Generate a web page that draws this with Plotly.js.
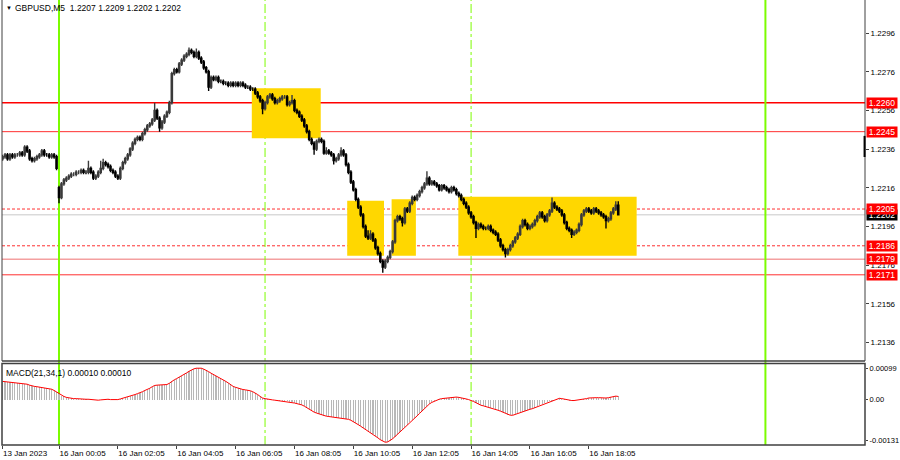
<!DOCTYPE html>
<html><head><meta charset="utf-8">
<script src="https://cdn.plot.ly/plotly-3.0.1.min.js"></script>
<style>html,body{margin:0;padding:0;background:#fff}#chart{width:900px;height:460px}</style>
</head><body><div id="chart"></div>
<script>
// ---- data (GBPUSD M5) ----
const firstBarIndex = -23; // bars before the first 16 Jan bar (13 Jan)
const barOpen = [1.2231,1.2232,1.2233,1.2231,1.2233,1.2232,1.2233,1.2233,1.2234,1.2233,1.2237,1.2235,1.2231,1.2230,1.2231,1.2232,1.2233,1.2235,1.2233,1.2233,1.2232,1.2233,1.2232,
1.2216,1.2211,1.2218,1.2220,1.2221,1.2222,1.2223,1.2223,1.2224,1.2224,
1.2225,1.2224,1.2224,1.2226,1.2224,1.2221,1.2222,1.2224,1.2226,1.2229,
1.2228,1.2227,1.2225,1.2224,1.2222,1.2221,1.2226,1.2229,1.2231,1.2233,
1.2236,1.2239,1.2241,1.2242,1.2241,1.2244,1.2246,1.2248,1.2249,1.2251,
1.2256,1.2252,1.2247,1.2250,1.2253,1.2255,1.2260,1.2275,1.2277,1.2276,
1.2280,1.2282,1.2284,1.2285,1.2287,1.2286,1.2284,1.2286,1.2283,1.2281,
1.2278,1.2276,1.2268,1.2273,1.2272,1.2273,1.2271,1.2271,1.2270,1.2270,
1.2269,1.2270,1.2269,1.2270,1.2269,1.2270,1.2269,1.2268,1.2268,1.2267,
1.2267,1.2265,1.2263,1.2261,1.2257,1.2260,1.2263,1.2264,1.2262,1.2260,
1.2261,1.2262,1.2263,1.2263,1.2259,1.2260,1.2261,1.2256,1.2255,1.2253,
1.2251,1.2248,1.2245,1.2241,1.2239,1.2236,1.2240,1.2241,1.2240,1.2234,
1.2235,1.2234,1.2233,1.2230,1.2231,1.2233,1.2235,1.2233,1.2228,1.2224,
1.2219,1.2215,1.2210,1.2206,1.2202,1.2196,1.2191,1.2190,1.2192,1.2189,
1.2185,1.2182,1.2178,1.2175,1.2178,1.2180,1.2183,1.2188,1.2199,1.2201,
1.2200,1.2198,1.2205,1.2204,1.2208,1.2211,1.2210,1.2212,1.2214,1.2216,
1.2218,1.2221,1.2218,1.2219,1.2218,1.2217,1.2215,1.2217,1.2216,1.2215,
1.2214,1.2216,1.2215,1.2213,1.2212,1.2210,1.2208,1.2206,1.2203,1.2201,
1.2198,1.2195,1.2197,1.2196,1.2195,1.2195,1.2196,1.2194,1.2193,1.2192,
1.2189,1.2186,1.2184,1.2182,1.2184,1.2186,1.2188,1.2190,1.2192,1.2196,
1.2199,1.2197,1.2195,1.2196,1.2197,1.2199,1.2201,1.2203,1.2201,1.2199,
1.2202,1.2204,1.2208,1.2206,1.2205,1.2204,1.2202,1.2198,1.2195,1.2194,
1.2192,1.2193,1.2194,1.2197,1.2202,1.2204,1.2205,1.2204,1.2203,1.2205,
1.2204,1.2203,1.2202,1.2201,1.2199,1.2200,1.2203,1.2205,1.2207];
const barHigh = [1.2233,1.2234,1.2234,1.2234,1.2234,1.2234,1.2234,1.2235,1.2235,1.2238,1.2238,1.2236,1.2232,1.2232,1.2233,1.2234,1.2236,1.2236,1.2234,1.2234,1.2234,1.2234,1.2233,
1.2217,1.2219,1.2221,1.2222,1.2223,1.2224,1.2224,1.2225,1.2225,1.2226,
1.2226,1.2225,1.2230,1.2227,1.2225,1.2223,1.2225,1.2230,1.2231,1.2230,
1.2229,1.2228,1.2226,1.2225,1.2223,1.2227,1.2230,1.2232,1.2234,1.2237,
1.2240,1.2242,1.2243,1.2243,1.2245,1.2247,1.2249,1.2250,1.2252,1.2260,
1.2257,1.2253,1.2251,1.2254,1.2256,1.2261,1.2276,1.2278,1.2278,1.2281,
1.2283,1.2285,1.2286,1.22885,1.2288,1.2287,1.2288,1.2287,1.2284,1.2282,
1.2279,1.2277,1.2274,1.2274,1.2274,1.2274,1.2272,1.2272,1.2271,1.2271,
1.2271,1.2271,1.2271,1.2271,1.2271,1.2271,1.2270,1.2269,1.2269,1.2268,
1.2268,1.2266,1.2264,1.2262,1.2261,1.2264,1.2265,1.2265,1.2263,1.2262,
1.2263,1.2264,1.2264,1.2264,1.2261,1.2264,1.2262,1.2257,1.2256,1.2254,
1.2252,1.2249,1.2246,1.2242,1.2240,1.2241,1.2242,1.2242,1.2241,1.2237,
1.2236,1.2235,1.2234,1.2232,1.2234,1.2237,1.2236,1.2234,1.2229,1.2225,
1.2220,1.2216,1.2211,1.2207,1.2203,1.2197,1.2194,1.2194,1.2193,1.2190,
1.2186,1.2183,1.2179,1.2179,1.2181,1.2184,1.2189,1.2200,1.2202,1.2202,
1.2201,1.2206,1.2206,1.2209,1.2212,1.2212,1.2213,1.2215,1.2217,1.2219,
1.22245,1.2222,1.2220,1.2220,1.2219,1.2218,1.2218,1.2218,1.2217,1.2216,
1.2217,1.2217,1.2216,1.2214,1.2213,1.2211,1.2209,1.2207,1.2204,1.2202,
1.2199,1.2198,1.2198,1.2197,1.2196,1.2197,1.2197,1.2195,1.2194,1.2193,
1.2190,1.2187,1.2185,1.2185,1.2187,1.2189,1.2191,1.2193,1.2197,1.2200,
1.2200,1.2198,1.2197,1.2198,1.2200,1.2202,1.2204,1.2204,1.2202,1.2203,
1.2205,1.2211,1.2209,1.2207,1.2206,1.2205,1.2203,1.2199,1.2196,1.2195,
1.2194,1.2195,1.2198,1.2203,1.2205,1.2206,1.2206,1.2205,1.2206,1.2206,
1.2205,1.2204,1.2203,1.2202,1.2201,1.2204,1.2206,1.2209,1.2209];
const barLow = [1.2230,1.2231,1.2230,1.2230,1.2231,1.2231,1.2232,1.2232,1.2232,1.2232,1.2234,1.2230,1.2229,1.2229,1.2230,1.2231,1.2232,1.2232,1.2232,1.2231,1.2231,1.2231,1.2225,
1.2208,1.2210,1.2217,1.2219,1.2220,1.2221,1.2222,1.2222,1.2223,1.2223,
1.2223,1.2223,1.2223,1.2223,1.2220,1.2220,1.2221,1.2223,1.2225,1.2227,
1.2226,1.2224,1.2223,1.2221,1.2220,1.2220,1.2225,1.2228,1.2230,1.2232,
1.2235,1.2238,1.2240,1.2240,1.2240,1.2243,1.2245,1.2247,1.2248,1.2250,
1.2251,1.2245,1.2246,1.2249,1.2252,1.2254,1.2259,1.2274,1.2275,1.2275,
1.2279,1.2281,1.2283,1.2284,1.2285,1.2283,1.2283,1.2282,1.2280,1.2277,
1.2275,1.2266,1.2267,1.2271,1.2271,1.2270,1.2270,1.2269,1.2269,1.2268,
1.2268,1.2268,1.2268,1.2268,1.2268,1.2268,1.2267,1.2267,1.2266,1.2266,
1.2264,1.2262,1.2260,1.2254,1.2256,1.2259,1.2262,1.2261,1.2259,1.2259,
1.2260,1.2261,1.2262,1.2258,1.2258,1.2259,1.2255,1.2254,1.2252,1.2250,
1.2247,1.2244,1.2240,1.2238,1.2233,1.2235,1.2239,1.2239,1.2233,1.2233,
1.2233,1.2232,1.2228,1.2229,1.2230,1.2232,1.2232,1.2227,1.2223,1.2218,
1.2214,1.2209,1.2205,1.2201,1.2195,1.2190,1.2189,1.2189,1.2188,1.2184,
1.2181,1.2177,1.2172,1.2174,1.2177,1.2179,1.2182,1.2187,1.2198,1.2199,
1.2196,1.2197,1.2203,1.2203,1.2207,1.2209,1.2209,1.2211,1.2213,1.2215,
1.2217,1.2217,1.2217,1.2217,1.2216,1.2214,1.2214,1.2215,1.2214,1.2213,
1.2213,1.2214,1.2212,1.2211,1.2209,1.2207,1.2205,1.2202,1.2200,1.2197,
1.2190,1.2194,1.2195,1.2194,1.2194,1.2194,1.2193,1.2192,1.2191,1.2188,
1.2185,1.2183,1.2180,1.2181,1.2183,1.2185,1.2187,1.2189,1.2191,1.2195,
1.2196,1.2194,1.2194,1.2195,1.2196,1.2198,1.2200,1.2200,1.2198,1.2198,
1.2201,1.2203,1.2205,1.2204,1.2203,1.2201,1.2197,1.2194,1.2193,1.2190,
1.2191,1.2192,1.2193,1.2196,1.2201,1.2203,1.2203,1.2202,1.2202,1.2203,
1.2202,1.2201,1.2200,1.2195,1.2198,1.2199,1.2202,1.2204,1.2202];
const barClose = [1.2232,1.2233,1.2231,1.2233,1.2232,1.2233,1.2233,1.2234,1.2233,1.2237,1.2235,1.2231,1.2230,1.2231,1.2232,1.2233,1.2235,1.2233,1.2233,1.2232,1.2233,1.2232,1.2226,
1.2211,1.2218,1.2220,1.2221,1.2222,1.2223,1.2223,1.2224,1.2224,1.2225,
1.2224,1.2224,1.2226,1.2224,1.2221,1.2222,1.2224,1.2226,1.2229,1.2228,
1.2227,1.2225,1.2224,1.2222,1.2221,1.2226,1.2229,1.2231,1.2233,1.2236,
1.2239,1.2241,1.2242,1.2241,1.2244,1.2246,1.2248,1.2249,1.2251,1.2256,
1.2252,1.2247,1.2250,1.2253,1.2255,1.2260,1.2275,1.2277,1.2276,1.2280,
1.2282,1.2284,1.2285,1.2287,1.2286,1.2284,1.2286,1.2283,1.2281,1.2278,
1.2276,1.2268,1.2273,1.2272,1.2273,1.2271,1.2271,1.2270,1.2270,1.2269,
1.2270,1.2269,1.2270,1.2269,1.2270,1.2269,1.2268,1.2268,1.2267,1.2267,
1.2265,1.2263,1.2261,1.2257,1.2260,1.2263,1.2264,1.2262,1.2260,1.2261,
1.2262,1.2263,1.2263,1.2259,1.2260,1.2261,1.2256,1.2255,1.2253,1.2251,
1.2248,1.2245,1.2241,1.2239,1.2236,1.2240,1.2241,1.2240,1.2234,1.2235,
1.2234,1.2233,1.2230,1.2231,1.2233,1.2235,1.2233,1.2228,1.2224,1.2219,
1.2215,1.2210,1.2206,1.2202,1.2196,1.2191,1.2190,1.2192,1.2189,1.2185,
1.2182,1.2178,1.2175,1.2178,1.2180,1.2183,1.2188,1.2199,1.2201,1.2200,
1.2198,1.2205,1.2204,1.2208,1.2211,1.2210,1.2212,1.2214,1.2216,1.2218,
1.2221,1.2218,1.2219,1.2218,1.2217,1.2215,1.2217,1.2216,1.2215,1.2214,
1.2216,1.2215,1.2213,1.2212,1.2210,1.2208,1.2206,1.2203,1.2201,1.2198,
1.2195,1.2197,1.2196,1.2195,1.2195,1.2196,1.2194,1.2193,1.2192,1.2189,
1.2186,1.2184,1.2182,1.2184,1.2186,1.2188,1.2190,1.2192,1.2196,1.2199,
1.2197,1.2195,1.2196,1.2197,1.2199,1.2201,1.2203,1.2201,1.2199,1.2202,
1.2204,1.2208,1.2206,1.2205,1.2204,1.2202,1.2198,1.2195,1.2194,1.2192,
1.2193,1.2194,1.2197,1.2202,1.2204,1.2205,1.2204,1.2203,1.2205,1.2204,
1.2203,1.2202,1.2201,1.2199,1.2200,1.2203,1.2205,1.2207,1.2202];
// MACD(21,34,1): histogram and signal (signal period 1 => same values)
const macdHist = [0.00058,0.00057,0.00056,0.00055,0.00054,0.00053,0.00052,0.00052,0.00051,0.00051,0.00049,0.00046,0.00043,0.00042,0.00041,0.00040,0.00039,0.00038,0.00037,0.00035,0.00033,0.00029,0.00024,
0.00018,0.00013,0.00010,0.00007,0.00005,0.00004,0.00003,0.00003,0.00002,0.00002,
0.00001,0.00001,0.00001,0,-0.00001,-0.00002,-0.00002,-0.00001,0,0.00001,
0.00001,0,0,-0.00001,0,0.00002,0.00004,0.00006,0.00008,0.00010,
0.00013,0.00016,0.00019,0.00021,0.00025,0.00029,0.00032,0.00036,0.00041,0.00045,
0.00046,0.00046,0.00046,0.00047,0.00048,0.00052,0.00058,0.00063,0.00067,0.00071,
0.00076,0.00080,0.00085,0.00090,0.00095,0.00098,0.00100,0.00101,0.00100,0.00097,
0.00094,0.00089,0.00084,0.00080,0.00074,0.00070,0.00066,0.00062,0.00058,0.00053,
0.00047,0.00042,0.00039,0.00036,0.00034,0.00032,0.00031,0.00030,0.00028,0.00025,
0.00021,0.00016,0.00010,0.00005,0.00003,0.00001,0,-0.00001,-0.00002,-0.00003,
-0.00004,-0.00005,-0.00005,-0.00006,-0.00007,-0.00009,-0.00011,-0.00013,-0.00014,-0.00017,
-0.00021,-0.00026,-0.00030,-0.00035,-0.00040,-0.00043,-0.00046,-0.00049,-0.00051,-0.00053,
-0.00054,-0.00055,-0.00056,-0.00058,-0.00059,-0.00060,-0.00060,-0.00061,-0.00063,-0.00066,
-0.00070,-0.00075,-0.00080,-0.00085,-0.00090,-0.00096,-0.00100,-0.00105,-0.00111,-0.00117,
-0.00122,-0.00128,-0.00133,-0.00136,-0.00135,-0.00131,-0.00125,-0.00118,-0.00111,-0.00102,
-0.00094,-0.00087,-0.00080,-0.00073,-0.00066,-0.00060,-0.00052,-0.00044,-0.00036,-0.00028,
-0.00020,-0.00014,-0.00009,-0.00005,-0.00002,0.00001,0.00003,0.00004,0.00005,0.00006,
0.00007,0.00008,0.00008,0.00007,0.00006,0.00004,0.00002,0,-0.00002,-0.00006,
-0.00010,-0.00015,-0.00018,-0.00020,-0.00022,-0.00024,-0.00026,-0.00028,-0.00031,-0.00034,
-0.00037,-0.00040,-0.00044,-0.00048,-0.00050,-0.00050,-0.00047,-0.00044,-0.00041,-0.00040,
-0.00037,-0.00034,-0.00031,-0.00029,-0.00026,-0.00022,-0.00018,-0.00015,-0.00012,-0.00009,
-0.00006,-0.00003,0,0.00002,0.00004,0.00003,0.00001,-0.00001,-0.00003,-0.00003,
-0.00003,-0.00002,-0.00002,-0.00001,0.00001,0.00003,0.00005,0.00006,0.00006,0.00006,
0.00006,0.00005,0.00005,0.00005,0.00006,0.00008,0.00009,0.00011,0.00010];
const macdSignal = macdHist; // SMA(1) of MACD equals MACD

const timeTickBars = [-23,0,24,48,72,96,120,144,168,192,216];
const timeTickLabels = ["13 Jan 2023","16 Jan 00:05","16 Jan 02:05","16 Jan 04:05","16 Jan 06:05","16 Jan 08:05","16 Jan 10:05","16 Jan 12:05","16 Jan 14:05","16 Jan 16:05","16 Jan 18:05"];
const priceTicks = [1.2296,1.2276,1.2256,1.2236,1.2216,1.2196,1.2176,1.2156,1.2136];
const macdTicks = [0.00099,0,-0.00131];
const macdTickLabels = ["0.00099","0.00","-0.00131"];
const levelPrices = [1.2260,1.2245,1.2205,1.2186,1.2179,1.2171];
const levelLabels = ["1.2260","1.2245","1.2205","1.2186","1.2179","1.2171"];
const bidPrice = 1.2202;
const headerText = "GBPUSD,M5  1.2207 1.2209 1.2202 1.2202";
const macdText = "MACD(21,34,1) 0.00010 0.00010";
const zoneStart = [78.6,117.5,135.6,162.8];
const zoneEnd = [106.7,132.5,145.5,235.5];
const zoneTop = [1.22674,1.22093,1.22100,1.22114];
const zoneBottom = [1.22416,1.21809,1.21809,1.21809];
const sessionLineBars = [0,84,168,288];
const sessionLineSolid = [true,false,false,true];

// ---- styles ----
const levelStyles = [
  {color:'#ff0000', width:1.5, dash:'solid'},
  {color:'#ff3030', width:1, dash:'solid'},
  {color:'#ff3030', width:1, dash:'3px,2px'},
  {color:'#ff3030', width:1, dash:'3px,2px'},
  {color:'#f4a0a0', width:1.5, dash:'solid'},
  {color:'#ff3030', width:1, dash:'solid'}
];
const FONT = 'Liberation Sans, Arial, sans-serif';
const mainBottom = (445-361)/445;
const macdTop = (445-363.5)/445;

const barIndex = barClose.map((_, k) => firstBarIndex + k);

const traces = [
  {type:'candlestick', x:barIndex, open:barOpen, high:barHigh, low:barLow, close:barClose,
   xaxis:'x', yaxis:'y', whiskerwidth:0, hoverinfo:'skip',
   increasing:{line:{color:'#3a3a3a', width:1.4}, fillcolor:'#9a9a9a'},
   decreasing:{line:{color:'#000000', width:1.4}, fillcolor:'#000000'}},
  {type:'bar', x:barIndex, y:macdHist, xaxis:'x', yaxis:'y2', width:0.45,
   marker:{color:'#b8b8b8', line:{width:0}}, hoverinfo:'skip'},
  {type:'scatter', mode:'lines', x:barIndex, y:macdSignal, xaxis:'x', yaxis:'y2',
   line:{color:'#ff0000', width:1}, hoverinfo:'skip'}
];

const shapes = [];
zoneStart.forEach((x0, k) => shapes.push({type:'rect', xref:'x', yref:'y', x0:x0, x1:zoneEnd[k],
  y0:zoneBottom[k], y1:zoneTop[k], fillcolor:'#ffd700', line:{width:0}, layer:'below'}));
shapes.push({type:'line', xref:'paper', yref:'y', x0:0, x1:1, y0:bidPrice, y1:bidPrice,
  line:{color:'#c8c8c8', width:1}, layer:'below'});
levelPrices.forEach((p, k) => shapes.push({type:'line', xref:'paper', yref:'y', x0:0, x1:1, y0:p, y1:p,
  line:levelStyles[k], layer:'below'}));
sessionLineBars.forEach((b, k) => shapes.push({type:'line', xref:'x', yref:'paper', x0:b, x1:b, y0:0, y1:1,
  line:{color:'#7cfc00', width: sessionLineSolid[k] ? 2 : 1, dash: sessionLineSolid[k] ? 'solid' : 'dashdot'}, layer:'below'}));
// panel frames
const frame = {color:'#404040', width:1};
shapes.push({type:'line', xref:'paper', yref:'paper', x0:0, x1:0, y0:mainBottom, y1:1, line:frame});
shapes.push({type:'line', xref:'paper', yref:'paper', x0:1, x1:1, y0:mainBottom, y1:1, line:frame});
shapes.push({type:'line', xref:'paper', yref:'paper', x0:0, x1:1, y0:mainBottom, y1:mainBottom, line:{color:'#404040', width:1.5}});
shapes.push({type:'rect', xref:'paper', yref:'paper', x0:0, x1:1, y0:0, y1:macdTop, line:{color:'#404040', width:1.5}});
// chart shift marker at the right edge
shapes.push({type:'line', xref:'paper', yref:'y', x0:0.9995, x1:0.9995, y0:1.22319, y1:1.22428, line:{color:'#000', width:2}});

const annotations = [];
annotations.push({xref:'paper', yref:'paper', x:0, y:1, xanchor:'left', yanchor:'top', xshift:2, yshift:-3,
  text:'▼', showarrow:false, font:{family:FONT, size:6, color:'#000'}});
annotations.push({xref:'paper', yref:'paper', x:0, y:1, xanchor:'left', yanchor:'top', xshift:11, yshift:-1,
  text:headerText, showarrow:false, font:{family:FONT, size:8.5, color:'#000'}});
annotations.push({xref:'paper', yref:'paper', x:0, y:macdTop, xanchor:'left', yanchor:'top', xshift:2, yshift:-2,
  text:macdText, showarrow:false, font:{family:FONT, size:8.5, color:'#000'}});
annotations.push({xref:'paper', yref:'y', x:1, y:bidPrice, xanchor:'left', yanchor:'middle', xshift:1,
  text:bidPrice.toFixed(4), showarrow:false, bgcolor:'#000000', width:30, height:10, borderpad:0,
  font:{family:FONT, size:8.5, color:'#ffffff'}});
levelPrices.forEach((p, k) => annotations.push({xref:'paper', yref:'y', x:1, y:p, xanchor:'left', yanchor:'middle', xshift:1,
  text:levelLabels[k], showarrow:false, bgcolor:'#ff0000', width:30, height:10, borderpad:0,
  font:{family:FONT, size:8.5, color:'#ffffff'}}));

const tickFont = {family:FONT, size:8, color:'#000'};
const layout = {
  width:900, height:460, margin:{l:2, r:35, t:0, b:15},
  paper_bgcolor:'#ffffff', plot_bgcolor:'#ffffff', showlegend:false, bargap:0,
  xaxis:{domain:[0,1], anchor:'y2', range:[-23.24, 328.6], rangeslider:{visible:false},
    tickvals:timeTickBars, ticktext:timeTickLabels, ticks:'outside', ticklen:3, tickcolor:'#404040',
    tickangle:0, ticklabelposition:'outside right', tickfont:tickFont, showgrid:false, zeroline:false, showline:false, fixedrange:true},
  yaxis:{domain:[mainBottom,1], anchor:'x', side:'right', range:[1.212644, 1.231306],
    tickvals:priceTicks, ticktext:priceTicks.map(v => v.toFixed(4)), ticks:'outside', ticklen:3, tickcolor:'#404040',
    tickfont:tickFont, showgrid:false, zeroline:false, showline:false, fixedrange:true},
  yaxis2:{domain:[0,macdTop], anchor:'x', side:'right', range:[-0.001448, 0.00115],
    tickvals:macdTicks, ticktext:macdTickLabels, ticks:'outside', ticklen:2, tickcolor:'#404040',
    tickfont:{family:FONT, size:7.5, color:'#000'}, showgrid:false, zeroline:false, showline:false, fixedrange:true},
  shapes:shapes, annotations:annotations
};
Plotly.newPlot('chart', traces, layout, {staticPlot:true, displayModeBar:false});
</script></body></html>
